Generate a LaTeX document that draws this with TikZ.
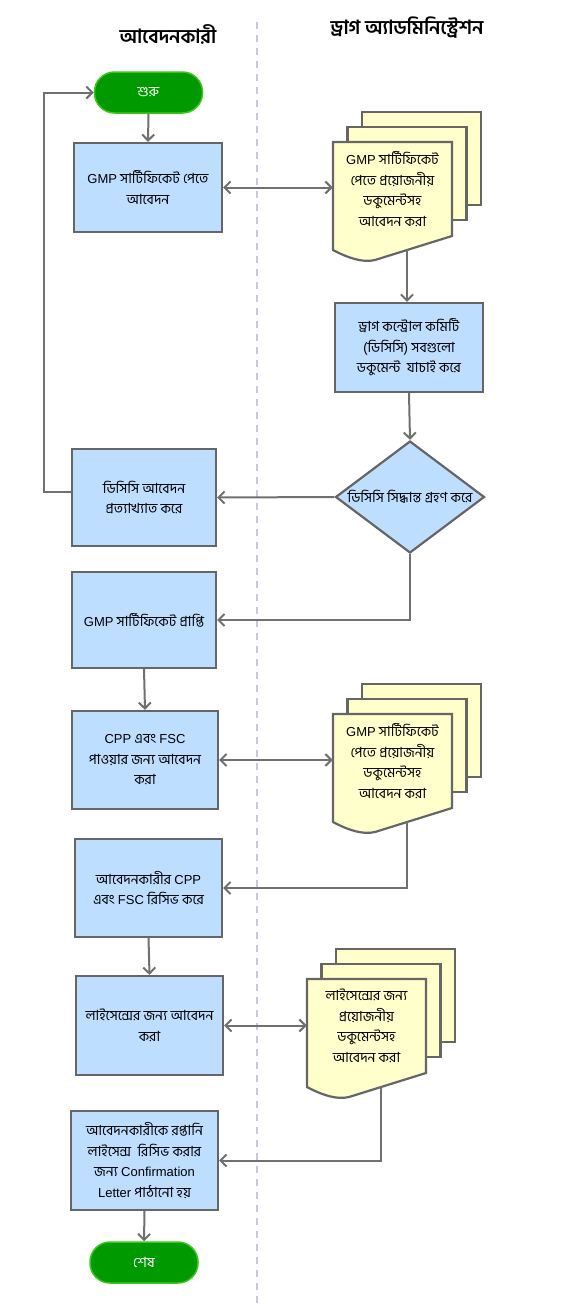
\documentclass[tikz,border=0pt]{standalone}
\usepackage{fontspec}
\setmainfont[Script=Bengali]{Hind Siliguri}
\newfontfamily\latfam{Liberation Sans}
\usetikzlibrary{arrows.meta,shapes.geometric,calc}
\definecolor{boxblue}{RGB}{190,222,255}
\definecolor{docyellow}{RGB}{255,255,204}
\definecolor{linegray}{RGB}{112,112,112}
\definecolor{bordergray}{RGB}{102,102,102}
\definecolor{termgreen}{RGB}{0,153,0}
\definecolor{termedge}{RGB}{60,200,20}
\definecolor{divcol}{RGB}{200,200,220}
\newcommand\bxfont{\fontsize{14}{20.5}\selectfont}
\newcommand\lt[1]{{\latfam\fontsize{13}{20.5}\selectfont #1}}
\newcommand\docnode[4]{%
  \draw[docpage] (#2+29,#3-30) rectangle (#2+148,#3+63);
  \draw[docpage] (#2+14.5,#3-15) rectangle (#2+133.5,#3+78);
  \draw[docpage] (#2,#3) -- (#2+119,#3) -- (#2+119,#3+94) -- (#2+42,#3+118)
     .. controls (#2+30,#3+121) and (#2+15,#3+116) .. (#2,#3+108) -- cycle;
  \node[doctext] (#1) at (#2+59.5,#3+47) {#4};
  \coordinate (#1out) at (#2+74,#3+108);
}
\begin{document}
\begin{tikzpicture}[x=1pt,y=-1pt,
  tip/.tip={Straight Barb[length=6pt,width=12pt]},
  flow/.style={draw=linegray, line width=2pt, -tip},
  both/.style={draw=linegray, line width=2pt, tip-tip},
  procbox/.style={rectangle, draw=bordergray, line width=2.2pt, fill=boxblue,
    align=center, font=\bxfont, inner sep=2pt},
  terminal/.style={rectangle, rounded corners=20pt, fill=termgreen, draw=termedge,
    line width=1.5pt, text=white, font=\bxfont, minimum width=108pt, minimum height=41pt},
  decision/.style={diamond, draw=bordergray, line width=2.2pt, fill=boxblue,
    minimum width=149pt, minimum height=112pt, inner sep=0pt},
  docpage/.style={draw=bordergray, line width=2.2pt, fill=docyellow},
  doctext/.style={align=center, font=\bxfont, inner sep=0pt, minimum width=119pt},
  header/.style={font=\fontsize{19.5}{22}\selectfont\bfseries}
]
\useasboundingbox (0,0) rectangle (572,1304);
\fill[white] (0,0) rectangle (572,1304);

% lanes
\draw[divcol, line width=1.5pt, dash pattern=on 7pt off 6pt] (257,22) -- (257,1304);
\node[header] (h1) at (168,34) {আবেদনকারী};
\node[header] (h2) at (407,28) {ড্রাগ অ্যাডমিনিস্ট্রেশন};

% applicant lane
\node[terminal] (start) at (148.5,92.5) {শুরু};
\node[procbox, minimum width=148pt, minimum height=89pt] (box1) at (148,187.5)
  {\lt{GMP} সার্টিফিকেট পেতে\\আবেদন};
\node[procbox, minimum width=144pt, minimum height=97pt] (reject) at (144,497.5)
  {ডিসিসি আবেদন\\প্রত্যাখ্যাত করে};
\node[procbox, minimum width=144pt, minimum height=96pt] (gmp) at (144,620)
  {\lt{GMP} সার্টিফিকেট প্রাপ্তি};
\node[procbox, minimum width=146pt, minimum height=98pt] (cpp) at (145,760)
  {\lt{CPP} এবং \lt{FSC}\\পাওয়ার জন্য আবেদন\\করা};
\node[procbox, minimum width=147pt, minimum height=98pt] (recv) at (148.5,888)
  {আবেদনকারীর \lt{CPP}\\এবং \lt{FSC} রিসিভ করে};
\node[procbox, minimum width=147pt, minimum height=99pt] (lic) at (149.5,1025.5)
  {লাইসেন্সের জন্য আবেদন\\করা};
\node[procbox, minimum width=147pt, minimum height=99pt] (conf) at (144.5,1160.5)
  {আবেদনকারীকে রপ্তানি\\লাইসেন্স\ \ রিসিভ করার\\জন্য \lt{Confirmation}\\\lt{Letter} পাঠানো হয়};
\node[terminal] (end) at (144,1262.5) {শেষ};

% administration lane
\docnode{doc1}{333}{142}{\lt{GMP} সার্টিফিকেট\\পেতে প্রয়োজনীয়\\ডকুমেন্টসহ\\আবেদন করা}
\node[procbox, minimum width=148pt, minimum height=89pt] (dcc) at (409,347.5)
  {ড্রাগ কন্ট্রোল কমিটি\\(ডিসিসি) সবগুলো\\ডকুমেন্ট\ \ যাচাই করে};
\node[decision] (dec) at (410,497) {};
\node[font=\bxfont, inner sep=0pt] (dectext) at (dec.center) {ডিসিসি সিদ্ধান্ত গ্রহণ করে};
\docnode{doc2}{333}{714}{\lt{GMP} সার্টিফিকেট\\পেতে প্রয়োজনীয়\\ডকুমেন্টসহ\\আবেদন করা}
\docnode{doc3}{307}{979}{লাইসেন্সের জন্য\\প্রয়োজনীয়\\ডকুমেন্টসহ\\আবেদন করা}

% connectors
\draw[flow] (start.south) -- (box1.north);
\draw[both] (box1.east) -- (box1.east -| doc1.west);
\draw[flow] (doc1out) -- (doc1out |- dcc.north);
\draw[flow] (dcc.south) -- (dec.north);
\draw[flow] (dec.west) -- (reject.east);
\draw[flow] ([yshift=6pt]reject.west) -- ++(-27,0) |- (start.west);
\draw[flow] (dec.south) |- (gmp.east);
\draw[flow] (gmp.south) -- (cpp.north);
\draw[both] (cpp.east) -- (cpp.east -| doc2.west);
\draw[flow] (doc2out) |- (recv.east);
\draw[flow] (recv.south) -- (lic.north);
\draw[both] (lic.east) -- (lic.east -| doc3.west);
\draw[flow] (doc3out) |- (conf.east);
\draw[flow] (conf.south) -- (end.north);
\end{tikzpicture}
\end{document}
